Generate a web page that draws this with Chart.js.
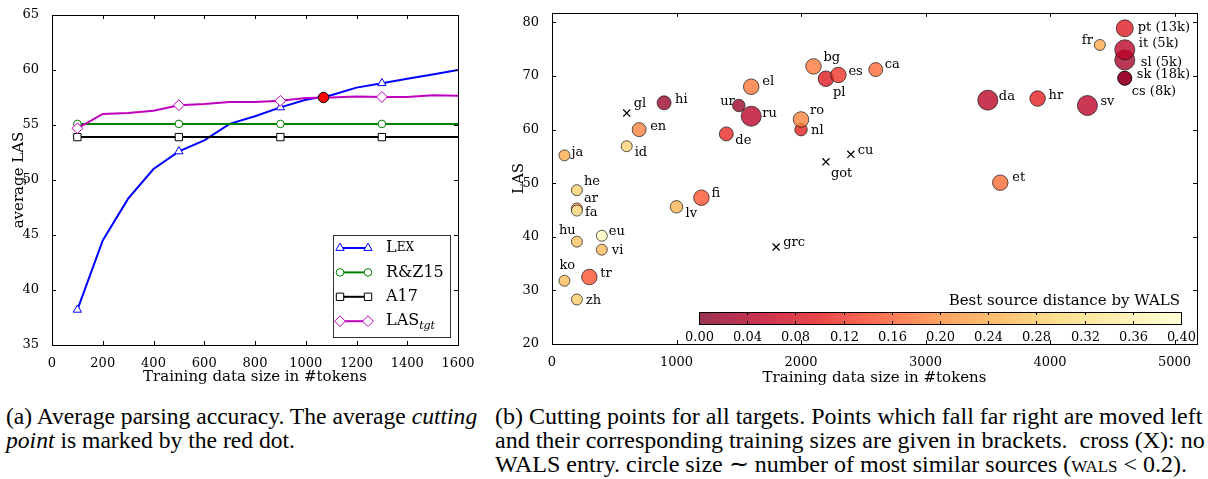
<!DOCTYPE html>
<html>
<head>
<meta charset="utf-8">
<script src="https://cdn.jsdelivr.net/npm/chart.js@4.4.1/dist/chart.umd.min.js"></script>
<style>
  html, body { margin: 0; padding: 0; background: #fff; }
  body { width: 1208px; height: 479px; position: relative; overflow: hidden; }
  canvas { position: absolute; top: 0; }
  #chartA { left: 0; }
  #chartB { left: 496px; }
  .cap { position: absolute; top: 404px; font-family: "Liberation Serif", "Times New Roman", serif; line-height: 24px; white-space: nowrap; color: #000; }
  .sc { font-variant: small-caps; }
</style>
</head>
<body>
<canvas id="chartA" width="478" height="392"></canvas>
<canvas id="chartB" width="712" height="392"></canvas>
<div class="cap" style="left:6px;font-size:23.6px">(a) Average parsing accuracy. The average <i>cutting</i><br><i>point</i> is marked by the red dot.</div>
<div class="cap" style="left:495px;font-size:24px">(b) Cutting points for all targets. Points which fall far right are moved left<br>and their corresponding training sizes are given in brackets.&nbsp; cross (X): no<br>WALS entry. circle size ∼ number of most similar sources (<span class="sc">wals</span> &lt; 0.2).</div>
<script>
// (a) average LAS against training size
const tokens = [100, 200, 300, 400, 500, 600, 700, 800, 900, 1000, 1100, 1200, 1300, 1400, 1500, 1600];
const lexLAS = [38.2, 44.5, 48.3, 51.0, 52.6, 53.6, 55.1, 55.8, 56.6, 57.3, 57.7, 58.4, 58.8, 59.2, 59.6, 60.0];
const rz15LAS = [55.1, 55.1, 55.1, 55.1, 55.1, 55.1, 55.1, 55.1, 55.1, 55.1, 55.1, 55.1, 55.1, 55.1, 55.1, 55.1];
const a17LAS = [53.9, 53.9, 53.9, 53.9, 53.9, 53.9, 53.9, 53.9, 53.9, 53.9, 53.9, 53.9, 53.9, 53.9, 53.9, 53.9];
const tgtLAS = [54.7, 56.0, 56.1, 56.3, 56.8, 56.9, 57.1, 57.1, 57.2, 57.45, 57.5, 57.6, 57.55, 57.55, 57.7, 57.65];
const markedTokens = [100, 500, 900, 1300];
const cuttingSize = [1070];
const cuttingLAS = [57.5];
const xTicksA = [0, 200, 400, 600, 800, 1000, 1200, 1400, 1600];
const yTicksA = [35, 40, 45, 50, 55, 60, 65];

// (b) cutting point per target language
const langs = ['ja', 'id', 'en', 'hi', 'he', 'ar', 'fa', 'hu', 'eu', 'vi', 'ko', 'tr', 'zh', 'lv', 'fi', 'de', 'ur', 'ru', 'el', 'nl', 'ro', 'bg', 'pl', 'es', 'ca', 'da', 'et', 'hr', 'sv', 'fr', 'pt', 'sl', 'it', 'sk', 'cs'];
const langSize = [100, 600, 700, 900, 200, 200, 200, 200, 400, 400, 100, 300, 200, 1000, 1200, 1400, 1500, 1600, 1600, 2000, 2000, 2100, 2200, 2300, 2600, 3500, 3600, 3900, 4300, 4400, 4600, 4600, 4600, 4600, 4600];
const langLAS = [55.2, 56.9, 60.0, 65.0, 48.7, 45.3, 44.9, 39.1, 40.2, 37.6, 31.8, 32.5, 28.3, 45.6, 47.3, 59.2, 64.5, 62.5, 68.0, 60.0, 61.9, 71.8, 69.5, 70.2, 71.2, 65.5, 50.1, 65.8, 64.5, 75.8, 78.9, 73.0, 74.9, 69.6, 69.6];
const langDist = [0.24, 0.29, 0.19, 0.02, 0.29, 0.21, 0.34, 0.27, 0.38, 0.26, 0.26, 0.15, 0.28, 0.25, 0.15, 0.11, 0.02, 0.05, 0.18, 0.10, 0.19, 0.18, 0.09, 0.12, 0.17, 0.05, 0.17, 0.10, 0.05, 0.24, 0.09, 0.03, 0.05, 0.01, 0.02];
const langSources = [0, 0, 2, 2, 0, 0, 0, 0, 0, 0, 0, 3, 0, 1, 3, 2, 1, 6, 3, 1, 3, 3, 3, 3, 2, 6, 3, 3, 6, 0, 4, 6, 6, 2, 2];
const farRightSize = { pt: '13k', it: '5k', sl: '5k', sk: '18k', cs: '8k' };
const noWalsLangs = ['gl', 'got', 'cu', 'grc'];
const noWalsSize = [600, 2200, 2400, 1800];
const noWalsLAS = [63.1, 54.0, 55.4, 38.1];
const xTicksB = [0, 1000, 2000, 3000, 4000, 5000];
const yTicksB = [20, 30, 40, 50, 60, 70, 80];
const distTicks = ['0.00', '0.04', '0.08', '0.12', '0.16', '0.20', '0.24', '0.28', '0.32', '0.36', '0.40'];

// label offsets in px from the marker: [dx, dy, align]
const labelPos = {
    ja: [7, -3], id: [8, 6], en: [11, -3], hi: [11, -3], he: [7, -9], ar: [7, -10], fa: [8, 2],
    hu: [-18, -11], eu: [7, -4], vi: [10, 1], ko: [-5, -15], tr: [11, -3], zh: [9, 1], lv: [9, 7],
    fi: [10, -4], de: [9, 7], ur: [-4, -4, 'right'], ru: [11, -3], el: [11, -5], nl: [10, 1], ro: [9, -9],
    bg: [10, -9], pl: [7, 14], es: [10, -3], ca: [9, -5], da: [11, -4], et: [12, -5], hr: [11, -3],
    sv: [13, -4], fr: [-7, -4, 'right'], pt: [13, -1], sl: [16, 3], it: [14, -6], sk: [12, -4], cs: [7, 13],
    gl: [7, -9], got: [5, 12], cu: [7, -4], grc: [7, -4]
};

Chart.defaults.font.family = '"DejaVu Serif", serif';
Chart.defaults.color = '#000';

const ylOrRd = ['#ffffcc', '#ffeda0', '#fed976', '#feb24c', '#fd8d3c', '#fc4e2a', '#e31a1c', '#bd0026', '#800026'];
function hexRgb(h) {
    return [1, 3, 5].map(i => parseInt(h.substr(i, 2), 16));
}
function distColor(d, alpha) {
    let t = Math.min(Math.max(1 - d / 0.4, 0), 1) * (ylOrRd.length - 1);
    const i = Math.min(Math.floor(t), ylOrRd.length - 2), f = t - i;
    const a = hexRgb(ylOrRd[i]), b = hexRgb(ylOrRd[i + 1]);
    const c = a.map((v, k) => Math.round(v + (b[k] - v) * f));
    return `rgba(${c[0]},${c[1]},${c[2]},${alpha})`;
}

// box around the plot with inward ticks on all four sides
const framePlugin = {
    id: 'frame',
    afterDatasetsDraw(chart) {
        const { ctx, chartArea: a, scales: { x, y } } = chart;
        ctx.save();
        ctx.strokeStyle = '#000';
        ctx.lineWidth = 1;
        ctx.beginPath();
        x.ticks.forEach(t => {
            const px = Math.round(x.getPixelForValue(t.value)) + 0.5;
            ctx.moveTo(px, a.bottom); ctx.lineTo(px, a.bottom - 4);
            ctx.moveTo(px, a.top); ctx.lineTo(px, a.top + 4);
        });
        y.ticks.forEach(t => {
            const py = Math.round(y.getPixelForValue(t.value)) + 0.5;
            ctx.moveTo(a.left, py); ctx.lineTo(a.left + 4, py);
            ctx.moveTo(a.right, py); ctx.lineTo(a.right - 4, py);
        });
        ctx.stroke();
        ctx.strokeRect(Math.round(a.left) + 0.5, Math.round(a.top) + 0.5, Math.round(a.right - a.left), Math.round(a.bottom - a.top));
        ctx.restore();
    }
};

function drawParts(ctx, parts, x, y) {
    parts.forEach(p => {
        ctx.font = (p.italic ? 'italic ' : '') + p.size + 'px "DejaVu Serif"';
        ctx.fillText(p.t, x, y + (p.dy || 0));
        x += ctx.measureText(p.t).width;
    });
}

const legendPlugin = {
    id: 'boxLegend',
    afterDatasetsDraw(chart) {
        const { ctx, chartArea: a } = chart;
        const x0 = Math.round(a.right - 125), y0 = Math.round(a.bottom - 110);
        ctx.save();
        ctx.fillStyle = '#fff';
        ctx.fillRect(x0, y0, 117, 102);
        ctx.strokeStyle = '#333';
        ctx.lineWidth = 1;
        ctx.strokeRect(x0 + 0.5, y0 + 0.5, 117, 102);
        chart.data.datasets.filter(d => d.legendParts).forEach((ds, i) => {
            const yy = y0 + 13 + i * 24.4;
            ctx.strokeStyle = ds.borderColor;
            ctx.lineWidth = 2;
            ctx.beginPath();
            ctx.moveTo(x0 + 7, yy); ctx.lineTo(x0 + 35, yy);
            ctx.stroke();
            ctx.fillStyle = '#fff';
            ctx.lineWidth = 1;
            [x0 + 7, x0 + 35].forEach(px => Chart.helpers.drawPoint(ctx, { pointStyle: ds.pointStyle, radius: ds.markerR, borderWidth: 1, rotation: 0 }, px, yy));
            ctx.fillStyle = '#000';
            ctx.textBaseline = 'middle';
            drawParts(ctx, ds.legendParts, x0 + 53, yy);
        });
        ctx.restore();
    }
};

function lineSet(ys, color, style, r, order, parts) {
    return {
        data: tokens.map((t, i) => ({ x: t, y: ys[i] })),
        showLine: true,
        borderColor: color,
        borderWidth: 2,
        tension: 0,
        pointStyle: style,
        pointBackgroundColor: '#fff',
        pointBorderColor: color,
        pointBorderWidth: 1,
        pointRadius: ctx => markedTokens.includes(tokens[ctx.dataIndex]) ? r : 0,
        markerR: r,
        order: order,
        legendParts: parts
    };
}

function fixedAxis(size, horiz) {
    return function (axis) {
        if (horiz) axis.height = size; else axis.width = size;
    };
}
const plain = v => String(v);
const tickFont = { size: 13 };
const titleFont = { size: 15 };

new Chart(document.getElementById('chartA'), {
    type: 'scatter',
    data: {
        datasets: [
            lineSet(lexLAS, '#0000ff', 'triangle', 4.8, 4, [{ t: 'L', size: 16 }, { t: 'EX', size: 12 }]),
            lineSet(rz15LAS, '#008000', 'circle', 3.8, 3, [{ t: 'R&Z15', size: 16 }]),
            lineSet(a17LAS, '#000000', 'rect', 5.2, 2, [{ t: 'A17', size: 16 }]),
            lineSet(tgtLAS, '#c000c0', 'rectRot', 5.4, 1, [{ t: 'LAS', size: 16 }, { t: 'tgt', size: 11, italic: true, dy: 5 }]),
            {
                data: cuttingSize.map((x, i) => ({ x: x, y: cuttingLAS[i] })),
                pointRadius: 5.2,
                pointBackgroundColor: '#ff0000',
                pointBorderColor: '#000',
                pointBorderWidth: 1,
                order: 0
            }
        ]
    },
    options: {
        responsive: false,
        animation: false,
        events: [],
        layout: { padding: { top: 15, right: 20, left: 0, bottom: 0 } },
        plugins: { legend: { display: false }, tooltip: { enabled: false } },
        scales: {
            x: {
                type: 'linear', min: 0, max: 1600,
                afterBuildTicks: s => { s.ticks = xTicksA.map(v => ({ value: v })); },
                ticks: { font: tickFont, padding: 3, maxRotation: 0, autoSkip: false, callback: plain },
                grid: { display: false }, border: { display: false },
                title: { display: true, text: 'Training data size in #tokens', font: titleFont, padding: { top: 0, bottom: 6 } },
                afterFit: fixedAxis(47, true)
            },
            y: {
                min: 35, max: 65,
                afterBuildTicks: s => { s.ticks = yTicksA.map(v => ({ value: v })); },
                ticks: { font: tickFont, padding: 5, callback: plain },
                grid: { display: false }, border: { display: false },
                title: { display: true, text: 'average LAS', font: titleFont, padding: { top: 10, bottom: 0 } },
                afterFit: fixedAxis(52, false)
            }
        }
    },
    plugins: [framePlugin, legendPlugin]
});

// language names next to points, plus the colour bar
const labelPlugin = {
    id: 'langLabels',
    afterDatasetsDraw(chart) {
        const { ctx } = chart;
        ctx.save();
        ctx.fillStyle = '#000';
        ctx.font = '13px "DejaVu Serif"';
        ctx.textBaseline = 'middle';
        chart.data.datasets.forEach((ds, di) => {
            chart.getDatasetMeta(di).data.forEach((pt, i) => {
                const code = ds.codes[i];
                const p = labelPos[code] || [8, -4];
                const txt = farRightSize[code] ? code + ' (' + farRightSize[code] + ')' : code;
                ctx.textAlign = p[2] || 'left';
                ctx.fillText(txt, pt.x + p[0], pt.y + p[1]);
            });
        });
        ctx.restore();
    },
    afterDraw(chart) {
        const { ctx, chartArea: a } = chart;
        const left = Math.round(a.left + 147), right = Math.round(a.right - 16);
        const top = Math.round(a.bottom - 32), h = 12;
        ctx.save();
        const w = right - left;
        for (let k = 0; k < w; k++) {
            ctx.fillStyle = '#fff';
            ctx.fillRect(left + k, top, 1, h);
            ctx.fillStyle = distColor(0.4 * (k + 0.5) / w, 0.8);
            ctx.fillRect(left + k, top, 1, h);
        }
        ctx.strokeStyle = '#000';
        ctx.lineWidth = 1;
        ctx.strokeRect(left + 0.5, top + 0.5, w, h);
        ctx.beginPath();
        ctx.fillStyle = '#000';
        ctx.font = '13px "DejaVu Serif"';
        ctx.textAlign = 'center';
        ctx.textBaseline = 'middle';
        distTicks.forEach((lbl, k) => {
            const px = Math.round(left + w * parseFloat(lbl) / 0.4) + 0.5;
            ctx.moveTo(px, top + h); ctx.lineTo(px, top + h - 3);
            ctx.moveTo(px, top); ctx.lineTo(px, top + 3);
            ctx.fillText(lbl, px, top + h + 14);
        });
        ctx.stroke();
        ctx.font = '15px "DejaVu Serif"';
        ctx.textAlign = 'right';
        ctx.fillText('Best source distance by WALS', right - 1, top - 11);
        ctx.restore();
    }
};

new Chart(document.getElementById('chartB'), {
    type: 'scatter',
    data: {
        datasets: [
            {
                codes: noWalsLangs,
                data: noWalsSize.map((x, i) => ({ x: x, y: noWalsLAS[i] })),
                pointStyle: 'crossRot',
                pointRadius: 5,
                pointBorderColor: '#000',
                pointBorderWidth: 1.2
            },
            {
                codes: langs,
                data: langSize.map((x, i) => ({ x: x, y: langLAS[i] })),
                pointRadius: langSources.map(n => 5.5 + 0.75 * n),
                pointBackgroundColor: langDist.map(d => distColor(d, 0.78)),
                pointBorderColor: 'rgba(20,20,20,0.7)',
                pointBorderWidth: 1
            }
        ]
    },
    options: {
        responsive: false,
        animation: false,
        events: [],
        layout: { padding: { top: 11, right: 8, left: 0, bottom: 0 } },
        plugins: { legend: { display: false }, tooltip: { enabled: false } },
        scales: {
            x: {
                type: 'linear', min: 0, max: 5180,
                afterBuildTicks: s => { s.ticks = xTicksB.map(v => ({ value: v })); },
                ticks: { font: tickFont, padding: 3, maxRotation: 0, autoSkip: false, callback: plain },
                grid: { display: false }, border: { display: false },
                title: { display: true, text: 'Training data size in #tokens', font: titleFont, padding: { top: 0, bottom: 5 } },
                afterFit: fixedAxis(48, true)
            },
            y: {
                min: 20, max: 81.8,
                afterBuildTicks: s => { s.ticks = yTicksB.map(v => ({ value: v })); },
                ticks: { font: tickFont, padding: 5, callback: plain },
                grid: { display: false }, border: { display: false },
                title: { display: true, text: 'LAS', font: titleFont, padding: { top: 14, bottom: 0 } },
                afterFit: fixedAxis(56, false)
            }
        }
    },
    plugins: [framePlugin, labelPlugin]
});
</script>
</body>
</html>
